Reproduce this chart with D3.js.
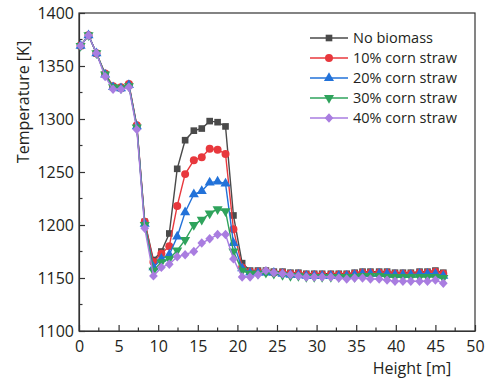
<!DOCTYPE html>
<html>
<head>
<meta charset="utf-8">
<script src="https://cdn.jsdelivr.net/npm/d3@7"></script>
<style>
  body { margin: 0; background: #fff; }
  text { font-family: "Open Sans", sans-serif; fill: #231f20; }
</style>
</head>
<body>
<svg id="chart" width="486" height="379"></svg>
<script>
// Heights of the measuring points [m]
const heights = [0.2, 1.2, 2.2, 3.3, 4.3, 5.3, 6.3, 7.3, 8.3, 9.4,
    10.4, 11.4, 12.4, 13.4, 14.5, 15.5, 16.5, 17.5, 18.5, 19.5,
    20.6, 21.6, 22.6, 23.6, 24.6, 25.7, 26.7, 27.7, 28.7, 29.7,
    30.7, 31.8, 32.8, 33.8, 34.8, 35.8, 36.8, 37.9, 38.9, 39.9,
    40.9, 41.9, 43.0, 44.0, 45.0, 46.0];

// Temperatures [K] for each case
const noBiomass = [1369, 1379, 1362, 1342, 1330, 1329, 1332, 1293, 1203, 1167,
    1175, 1192, 1253, 1280, 1289, 1291, 1298, 1297, 1293, 1209,
    1164, 1157, 1157, 1157, 1156, 1156, 1155, 1155, 1154, 1154,
    1154, 1154, 1154, 1154, 1155, 1156, 1156, 1156, 1156, 1155,
    1155, 1155, 1156, 1156, 1157, 1155];
const corn10 = [1369, 1379, 1362, 1343, 1331, 1330, 1333, 1294, 1203, 1165,
    1173, 1180, 1218, 1248, 1261, 1264, 1272, 1271, 1267, 1196,
    1160, 1156, 1156, 1156, 1155, 1155, 1154, 1154, 1153, 1153,
    1153, 1153, 1153, 1153, 1154, 1155, 1155, 1155, 1155, 1154,
    1154, 1154, 1155, 1155, 1156, 1154];
const corn20 = [1369, 1379, 1362, 1342, 1330, 1329, 1332, 1293, 1201, 1160,
    1168, 1172, 1189, 1212, 1229, 1232, 1240, 1241, 1239, 1183,
    1159, 1155, 1155, 1155, 1155, 1154, 1153, 1153, 1152, 1152,
    1152, 1152, 1152, 1152, 1153, 1154, 1154, 1154, 1154, 1153,
    1153, 1153, 1154, 1154, 1154, 1152];
const corn30 = [1369, 1379, 1362, 1342, 1330, 1329, 1331, 1292, 1200, 1157,
    1165, 1168, 1176, 1186, 1200, 1205, 1211, 1215, 1213, 1175,
    1157, 1154, 1154, 1155, 1154, 1153, 1152, 1152, 1151, 1151,
    1151, 1151, 1151, 1151, 1151, 1152, 1152, 1152, 1151, 1151,
    1151, 1151, 1151, 1151, 1151, 1150];
const corn40 = [1369, 1379, 1362, 1340, 1328, 1328, 1330, 1290, 1197, 1152,
    1160, 1163, 1170, 1172, 1175, 1183, 1187, 1191, 1191, 1168,
    1151, 1151, 1153, 1157, 1155, 1154, 1153, 1152, 1151, 1151,
    1151, 1151, 1150, 1149, 1150, 1150, 1149, 1149, 1148, 1147,
    1147, 1147, 1147, 1147, 1148, 1145];

const seriesNames = ["No biomass", "10% corn straw", "20% corn straw", "30% corn straw", "40% corn straw"];
const seriesValues = [noBiomass, corn10, corn20, corn30, corn40];
const colors = ["#4a4a4a", "#e8383d", "#2272d9", "#2fa35c", "#a97de0"];

const xTicks = [0, 5, 10, 15, 20, 25, 30, 35, 40, 45, 50];
const yTicks = [1100, 1150, 1200, 1250, 1300, 1350, 1400];

const svg = d3.select("#chart");
const margin = { top: 13, right: 11, bottom: 48, left: 79 };
const width = 486 - margin.left - margin.right;
const height = 379 - margin.top - margin.bottom;

const x = d3.scaleLinear().domain([0, 50]).range([0, width]);
const y = d3.scaleLinear().domain([1100, 1400]).range([height, 0]);

const g = svg.append("g").attr("transform", `translate(${margin.left},${margin.top})`);

// frame
g.append("rect")
    .attr("width", width).attr("height", height)
    .attr("fill", "none").attr("stroke", "#333").attr("stroke-width", 1.2);

// minor ticks
const xMinor = d3.range(2.5, 50, 5);
const yMinor = d3.range(1125, 1400, 50);
g.selectAll(".xminor").data(xMinor).enter().append("line")
    .attr("x1", d => x(d)).attr("x2", d => x(d))
    .attr("y1", height).attr("y2", height - 3.5)
    .attr("stroke", "#333").attr("stroke-width", 1.2);
g.selectAll(".yminor").data(yMinor).enter().append("line")
    .attr("x1", 0).attr("x2", 3.5)
    .attr("y1", d => y(d)).attr("y2", d => y(d))
    .attr("stroke", "#333").attr("stroke-width", 1.2);

// axes
const xAxis = g.append("g")
    .attr("transform", `translate(0,${height})`)
    .call(d3.axisBottom(x).tickValues(xTicks).tickFormat(d3.format("d"))
        .tickSizeInner(-6).tickSizeOuter(0).tickPadding(10));
const yAxis = g.append("g")
    .call(d3.axisLeft(y).tickValues(yTicks).tickFormat(d3.format("d"))
        .tickSizeInner(-6).tickSizeOuter(0).tickPadding(6));

[xAxis, yAxis].forEach(a => {
    a.select(".domain").attr("stroke", "#333").attr("stroke-width", 1.2);
    a.selectAll(".tick line").attr("stroke", "#333").attr("stroke-width", 1.2);
    a.selectAll(".tick text").style("font-size", "16px").attr("fill", "#231f20");
});
yAxis.selectAll(".tick text").attr("x", -5);

// axis titles
svg.append("text")
    .attr("transform", "translate(29,102) rotate(-90)")
    .attr("text-anchor", "middle")
    .style("font-size", "16px")
    .text("Temperature [K]");
svg.append("text")
    .attr("x", 412).attr("y", 374)
    .attr("text-anchor", "middle")
    .style("font-size", "16px")
    .text("Height [m]");

// marker symbols
const diamond = {
    draw(context, size) {
        const r = Math.sqrt(size) / 2 * 1.45;
        context.moveTo(0, -r * 1.08);
        context.lineTo(r, 0);
        context.lineTo(0, r * 1.08);
        context.lineTo(-r, 0);
        context.closePath();
    }
};
const symbols = [
    { type: d3.symbolSquare, size: 44, rot: 0 },
    { type: d3.symbolCircle, size: 50, rot: 0 },
    { type: d3.symbolTriangle, size: 44, rot: 0 },
    { type: d3.symbolTriangle, size: 44, rot: 180 },
    { type: diamond, size: 36, rot: 0 }
];

const line = d3.line()
    .x((d, i) => x(heights[i]))
    .y(d => y(d));

seriesValues.forEach((vals, s) => {
    const sg = g.append("g");
    sg.append("path")
        .datum(vals)
        .attr("d", line)
        .attr("fill", "none")
        .attr("stroke", colors[s])
        .attr("stroke-width", 1.4);
    sg.selectAll("path.pt")
        .data(vals)
        .enter()
        .append("path")
        .attr("class", "pt")
        .attr("d", d3.symbol().type(symbols[s].type).size(symbols[s].size))
        .attr("transform", (d, i) => `translate(${x(heights[i])},${y(d)}) rotate(${symbols[s].rot})`)
        .attr("fill", colors[s]);
});

// legend
const legend = svg.append("g").attr("transform", "translate(310,38)");
seriesNames.forEach((name, s) => {
    const row = legend.append("g").attr("transform", `translate(0,${s * 20})`);
    row.append("line")
        .attr("x1", 0).attr("x2", 38)
        .attr("stroke", colors[s]).attr("stroke-width", 1.4);
    row.append("path")
        .attr("d", d3.symbol().type(symbols[s].type).size(symbols[s].size))
        .attr("transform", `translate(19,0) rotate(${symbols[s].rot})`)
        .attr("fill", colors[s]);
    row.append("text")
        .attr("x", 43).attr("dy", "0.35em")
        .style("font-size", "14.5px")
        .text(name);
});
</script>
</body>
</html>
